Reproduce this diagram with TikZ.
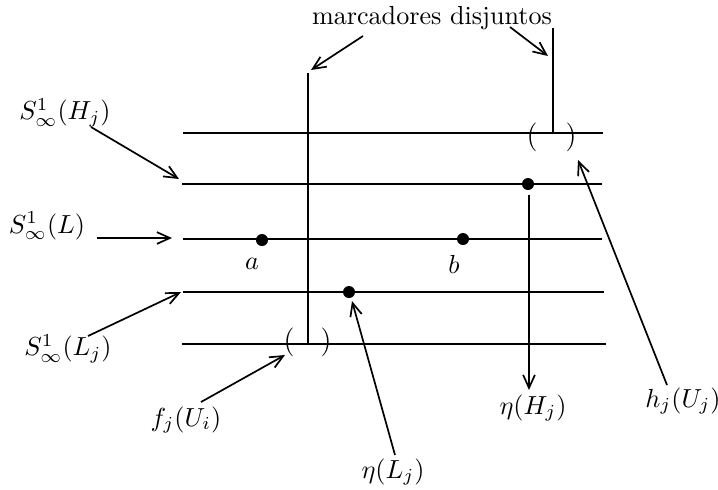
\documentclass[tikz,border=0pt]{standalone}
\usetikzlibrary{arrows.meta}
\begin{document}
\begin{tikzpicture}[x=0.383pt,y=-0.383pt,
  ln/.style={line width=0.65pt},
  arr/.style={line width=0.65pt,-{Straight Barb[length=5pt,width=4.5pt]}},
  lbl/.style={inner sep=0pt},
  dotnode/.style={circle,fill=black,inner sep=0pt,minimum size=4.6pt},
  par/.style={inner sep=0pt,font=\fontsize{11}{13}\selectfont}]
\useasboundingbox (0,0) rectangle (718,489);
% horizontal lines
\coordinate (l1w) at (183,133); \coordinate (l1e) at (603,133);
\coordinate (l2w) at (182,184); \coordinate (l2e) at (602,184);
\coordinate (l3w) at (183,239); \coordinate (l3e) at (602,239);
\coordinate (l4w) at (183,292); \coordinate (l4e) at (604,292);
\coordinate (l5w) at (182,344); \coordinate (l5e) at (606,344);
\draw[ln] (l1w) -- (l1e);
\draw[ln] (l2w) -- (l2e);
\draw[ln] (l3w) -- (l3e);
\draw[ln] (l4w) -- (l4e);
\draw[ln] (l5w) -- (l5e);
% vertical markers
\coordinate (v1t) at (308,73); \coordinate (v1b) at (308,344);
\coordinate (v2t) at (553,28); \coordinate (v2b) at (553,133);
\draw[ln] (v1t) -- (v1b);
\draw[ln] (v2t) -- (v2b);
% brackets
\node[par] (pl1) at (532,137) {(};
\node[par] (pr1) at (571,137) {)};
\node[par] (pl2) at (289,342) {(};
\node[par] (pr2) at (326,342) {)};
% dots
\node[dotnode] (da) at (262,240) {};
\node[dotnode] (db) at (463,239) {};
\node[dotnode] (dh) at (528,184) {};
\node[dotnode] (dl) at (349,292) {};
% labels
\node[lbl] (marc) at (432,18) {marcadores disjuntos};
\node[lbl] (SH) at (65,113) {$S^1_\infty(H_j)$};
\node[lbl] (SL) at (47,226) {$S^1_\infty(L)$};
\node[lbl] (SLj) at (68,349) {$S^1_\infty(L_j)$};
\node[lbl] (la) at (252,264) {$a$};
\node[lbl] (lb) at (454,264) {$b$};
\node[lbl] (fj) at (186,420) {$f_j(U_i)$};
\node[lbl] (eL) at (393,472) {$\eta(L_j)$};
\node[lbl] (eH) at (533,408) {$\eta(H_j)$};
\node[lbl] (hj) at (683,401) {$h_j(U_j)$};
% arrow endpoints
\coordinate (m1s) at (363,36); \coordinate (m1e) at (311,70);
\coordinate (m2s) at (510,27); \coordinate (m2e) at (548,56);
\coordinate (SHs) at (91,127); \coordinate (SHe) at (179,179);
\coordinate (SLs) at (97,238); \coordinate (SLe) at (172,238);
\coordinate (SLjs) at (88,336); \coordinate (SLje) at (181,292);
\coordinate (fjs) at (201,402); \coordinate (fje) at (285,355);
\coordinate (eLs) at (395,455); \coordinate (eLe) at (352,301);
\coordinate (eHs) at (529,195); \coordinate (eHe) at (529,390);
\coordinate (hjs) at (667,385); \coordinate (hje) at (578,160);
\draw[arr] (m1s) -- (m1e);
\draw[arr] (m2s) -- (m2e);
\draw[arr] (SHs) -- (SHe);
\draw[arr] (SLs) -- (SLe);
\draw[arr] (SLjs) -- (SLje);
\draw[arr] (fjs) -- (fje);
\draw[arr] (eLs) -- (eLe);
\draw[arr] (eHs) -- (eHe);
\draw[arr] (hjs) -- (hje);
\end{tikzpicture}
\end{document}
